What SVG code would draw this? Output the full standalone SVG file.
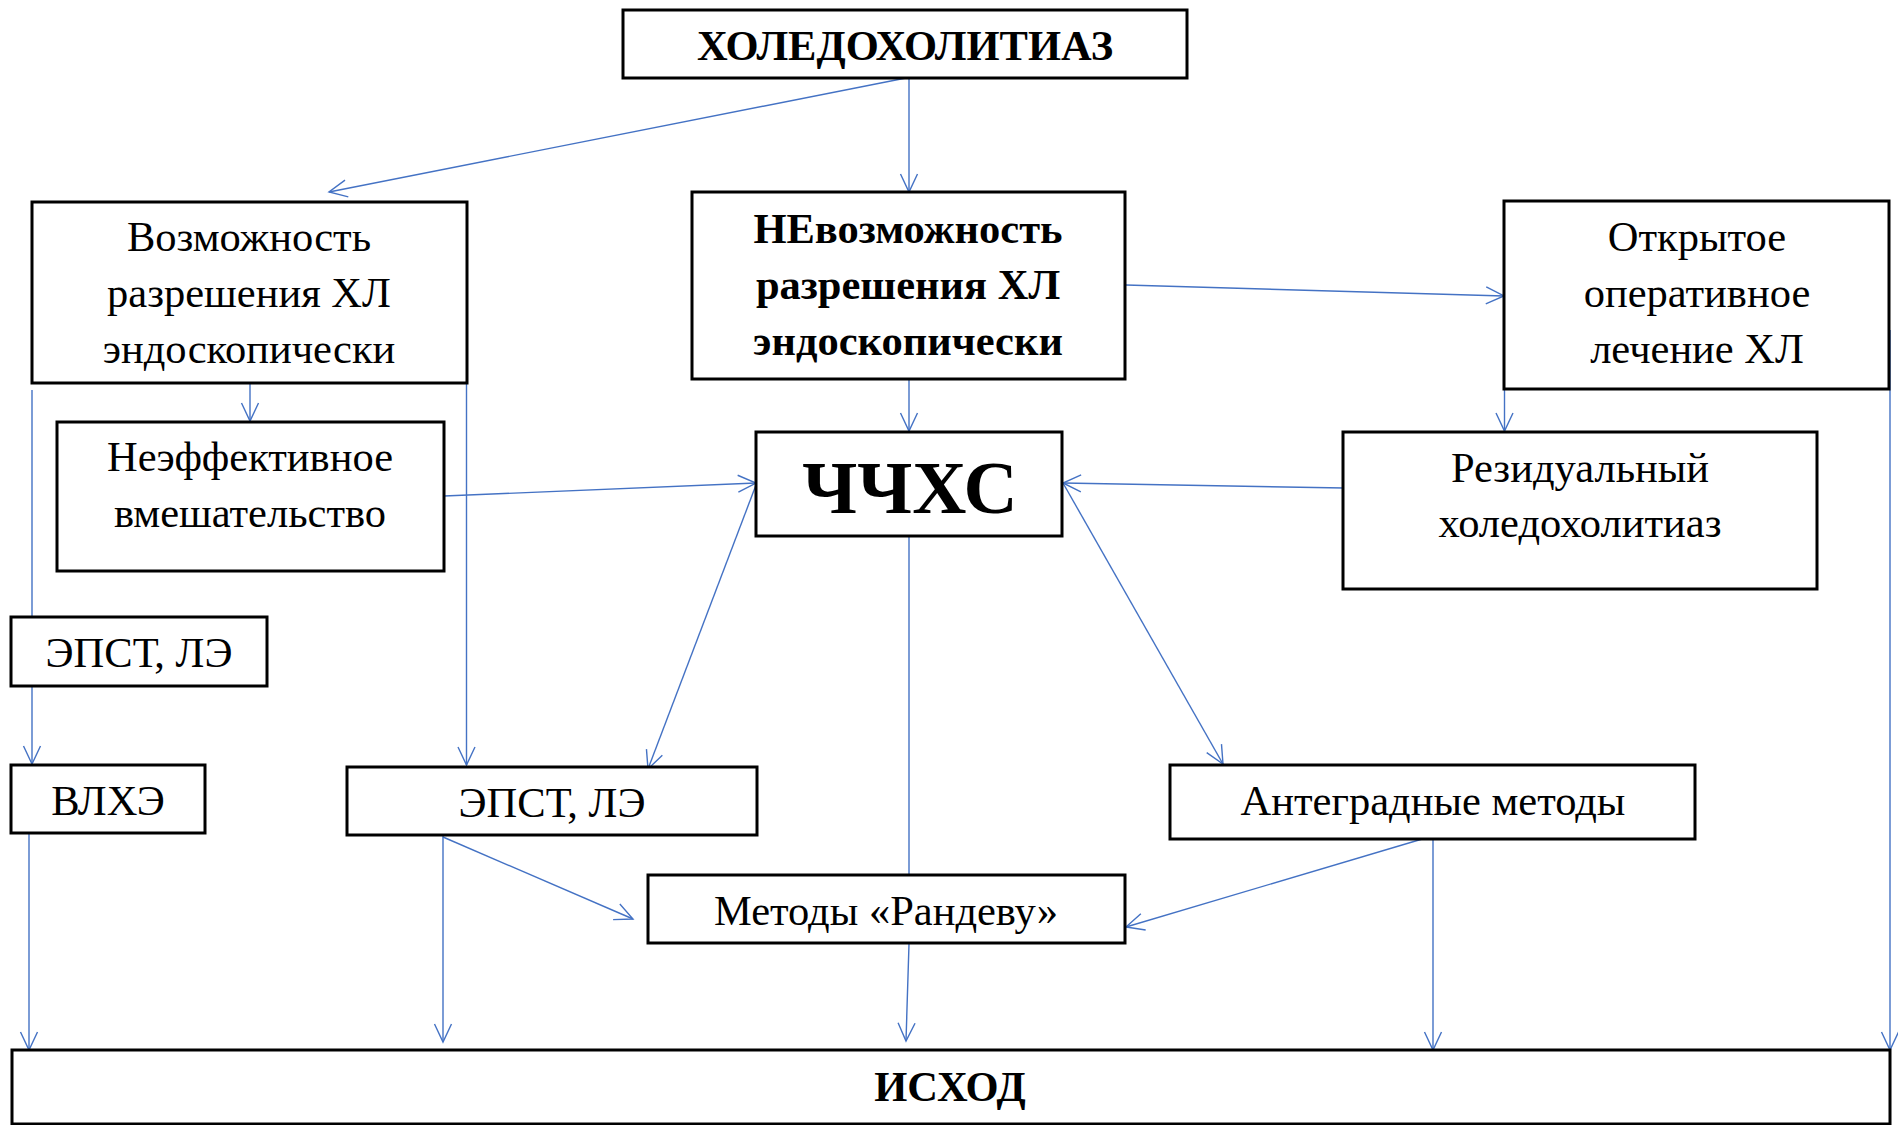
<svg xmlns="http://www.w3.org/2000/svg" width="1898" height="1125" viewBox="0 0 1898 1125">
<style>
.box{fill:#fff;stroke:#000;stroke-width:3}
.t{font-family:"Liberation Serif","Times New Roman",serif;font-size:42.5px;fill:#000;text-anchor:middle}
.b{font-weight:bold}
.c{fill:none;stroke:#4472C4;stroke-width:1.4}
</style>
<defs>
<marker id="ar" markerUnits="userSpaceOnUse" markerWidth="24" markerHeight="24" viewBox="-20 -12 24 24" refX="0" refY="0" orient="auto">
<path d="M-18,-8.5 L0,0 L-18,8.5" fill="none" stroke="#4472C4" stroke-width="1.4"/>
</marker>
</defs>
<rect width="1898" height="1125" fill="#fff"/>
<g id="connectors">
<line class="c" x1="906" y1="78" x2="329" y2="192" marker-end="url(#ar)"/>
<line class="c" x1="909" y1="78" x2="909" y2="192" marker-end="url(#ar)"/>
<line class="c" x1="1126" y1="285" x2="1504" y2="296" marker-end="url(#ar)"/>
<line class="c" x1="250" y1="384" x2="250" y2="421" marker-end="url(#ar)"/>
<line class="c" x1="909" y1="380" x2="909" y2="431" marker-end="url(#ar)"/>
<line class="c" x1="32" y1="390" x2="32" y2="764" marker-end="url(#ar)"/>
<line class="c" x1="466.5" y1="293" x2="466.5" y2="765" marker-end="url(#ar)"/>
<line class="c" x1="444" y1="496" x2="756" y2="483" marker-end="url(#ar)"/>
<line class="c" x1="756" y1="485" x2="648" y2="769" marker-end="url(#ar)"/>
<line class="c" x1="1344" y1="488" x2="1063" y2="483" marker-end="url(#ar)"/>
<line class="c" x1="1063" y1="483" x2="1223" y2="764" marker-end="url(#ar)"/>
<line class="c" x1="1504.5" y1="362" x2="1504.5" y2="431" marker-end="url(#ar)"/>
<line class="c" x1="1890" y1="330" x2="1890" y2="1050" marker-end="url(#ar)"/>
<line class="c" x1="909" y1="534" x2="909" y2="893" marker-end="url(#ar)"/>
<line class="c" x1="29" y1="833" x2="29" y2="1050" marker-end="url(#ar)"/>
<line class="c" x1="443" y1="836" x2="443" y2="1042" marker-end="url(#ar)"/>
<line class="c" x1="443" y1="837" x2="633" y2="919" marker-end="url(#ar)"/>
<line class="c" x1="1429" y1="837" x2="1126" y2="927" marker-end="url(#ar)"/>
<line class="c" x1="1433" y1="837" x2="1433" y2="1050" marker-end="url(#ar)"/>
<line class="c" x1="909" y1="944" x2="906" y2="1041" marker-end="url(#ar)"/>
</g>
<g id="n-holedoholitiaz">
<rect class="box" x="623" y="10" width="564" height="68"/>
<text class="t b" x="905" y="60">ХОЛЕДОХОЛИТИАЗ</text>
</g>
<g id="n-vozmozhnost">
<rect class="box" x="32" y="202" width="435" height="181"/>
<text class="t" x="249" y="251">Возможность</text>
<text class="t" x="249" y="307">разрешения ХЛ</text>
<text class="t" x="249" y="363">эндоскопически</text>
</g>
<g id="n-nevozmozhnost">
<rect class="box" x="692" y="192" width="433" height="187"/>
<text class="t b" x="908" y="243">НЕвозможность</text>
<text class="t b" x="908" y="299">разрешения ХЛ</text>
<text class="t b" x="908" y="355">эндоскопически</text>
</g>
<g id="n-otkrytoe">
<rect class="box" x="1504" y="201" width="385" height="188"/>
<text class="t" x="1697" y="251">Открытое</text>
<text class="t" x="1697" y="307">оперативное</text>
<text class="t" x="1697" y="363">лечение ХЛ</text>
</g>
<g id="n-neeffektivnoe">
<rect class="box" x="57" y="422" width="387" height="149"/>
<text class="t" x="250" y="471">Неэффективное</text>
<text class="t" x="250" y="527">вмешательство</text>
</g>
<g id="n-chchhs">
<rect class="box" x="756" y="432" width="306" height="104"/>
<text class="t b" x="910" y="513" style="font-size:75px">ЧЧХС</text>
</g>
<g id="n-rezidualnyi">
<rect class="box" x="1343" y="432" width="474" height="157"/>
<text class="t" x="1580" y="482">Резидуальный</text>
<text class="t" x="1580" y="537">холедохолитиаз</text>
</g>
<g id="n-epst-left">
<rect class="box" x="11" y="617" width="256" height="69"/>
<text class="t" x="139" y="667">ЭПСТ, ЛЭ</text>
</g>
<g id="n-vlhe">
<rect class="box" x="11" y="765" width="194" height="68"/>
<text class="t" x="108" y="815">ВЛХЭ</text>
</g>
<g id="n-epst-mid">
<rect class="box" x="347" y="767" width="410" height="68"/>
<text class="t" x="552" y="817">ЭПСТ, ЛЭ</text>
</g>
<g id="n-antegradnye">
<rect class="box" x="1170" y="765" width="525" height="74"/>
<text class="t" x="1433" y="815">Антеградные методы</text>
</g>
<g id="n-randevu">
<rect class="box" x="648" y="875" width="477" height="68"/>
<text class="t" x="886" y="925">Методы «Рандеву»</text>
</g>
<g id="n-ishod">
<rect class="box" x="12" y="1050" width="1878" height="74"/>
<text class="t b" x="950" y="1101">ИСХОД</text>
</g>
</svg>
